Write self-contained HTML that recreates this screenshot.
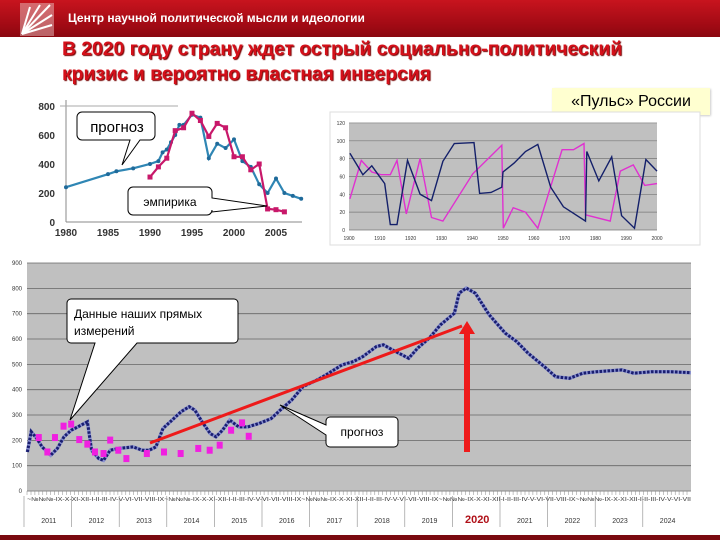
<!DOCTYPE html>
<html><head><meta charset="utf-8">
<style>
body{margin:0;width:720px;height:540px;overflow:hidden;background:#fff;font-family:"Liberation Sans",sans-serif;position:relative}
.abs{position:absolute}
#hdr{left:0;top:0;width:720px;height:37px;background:linear-gradient(#c8141e,#a00a14 70%,#8a0810)}
#title{left:62px;top:37px;color:#d4101a;font-weight:bold;font-size:19.5px;line-height:25px;text-shadow:1px 1px 1px #700;letter-spacing:-0.1px}
</style></head><body>
<div id="hdr" class="abs"></div>
<svg class="abs" style="left:20px;top:3px" width="34" height="33">
<rect x="0" y="0" width="34" height="33" fill="#e8c0c0" opacity="0.5"/>
<g stroke="#fff" stroke-width="2"><line x1="2" y1="31" x2="30" y2="2"/><line x1="2" y1="31" x2="20" y2="2"/><line x1="2" y1="31" x2="32" y2="12"/><line x1="2" y1="31" x2="10" y2="4"/><line x1="2" y1="31" x2="32" y2="22"/></g></svg>
<div class="abs" style="left:68px;top:11px;color:#fff;font-weight:bold;font-size:12px;letter-spacing:0px">Центр научной политической мысли и идеологии</div>
<div id="title" class="abs">В 2020 году страну ждет острый социально-политический<br>кризис и вероятно властная инверсия</div>
<div class="abs" style="left:552px;top:88px;width:158px;height:27px;background:#ffffd0;box-shadow:1px 1px 2px #ccc;font-size:16px;line-height:27px;text-align:center">«Пульс» России</div>
<svg class="abs" style="left:0;top:0" width="720" height="540" id="svg"></svg>
<script>
// ---- chart 1 data
const c1Years=[1980,1985,1986,1988,1990,1991,1991.5,1992,1992.5,1993,1993.5,1994,1995,1996,1997,1998,1999,2000,2001,2002,2003,2004,2005,2006,2007,2008];
const c1Forecast=[240,330,350,370,400,420,480,500,550,600,670,670,740,720,440,540,510,570,420,380,260,200,300,200,180,160];
const c1EmpYears=[1990,1991,1992,1993,1994,1995,1996,1997,1998,1999,2000,2001,2002,2003,2004,2005,2006];
const c1Empirical=[310,380,440,630,650,750,700,590,680,650,450,450,360,400,90,85,70];
const c1YTicks=[0,200,400,600,800];
const c1XTicks=[1980,1985,1990,1995,2000,2005];
// ---- chart 2 data
const c2NavyYears=[1900.3,1904.5,1907.4,1911.6,1913.4,1915.6,1919.0,1923.1,1926.8,1930.5,1934.2,1940.6,1942.4,1946.1,1949.6,1950.0,1953.6,1957.3,1961.3,1965.5,1969.6,1976.8,1977.2,1981.1,1985.3,1988.5,1992.7,1996.4,2000];
const c2Navy=[86,62,72,52,6,6,78,40,33,77,97,98,41,42,48,65,75,88,96,48,26,10,88,55,82,16,2,79,66];
const c2PinkYears=[1900.3,1904.0,1907.4,1910.4,1913.4,1915.6,1918.6,1923.1,1926.8,1930.5,1940.2,1949.6,1950.1,1953.3,1957.3,1961.3,1969.2,1972.9,1976.3,1976.8,1984.8,1988.1,1992.3,1996.0,2000];
const c2Pink=[35,78,65,62,62,78,18,80,14,10,63,95,2,25,20,2,90,90,97,17,10,66,73,50,52];
const c2YTicks=[0,20,40,60,80,100,120];
const c2XTicks=[1900,1910,1920,1930,1940,1950,1960,1970,1980,1990,2000];
// ---- chart 3 data
const c3Years=[2011.05,2011.13,2011.25,2011.36,2011.54,2011.68,2011.82,2011.97,2012.11,2012.31,2012.40,2012.55,2012.65,2012.79,2012.98,2013.27,2013.46,2013.61,2013.75,2013.90,2014.09,2014.28,2014.45,2014.57,2014.72,2014.89,2015.01,2015.15,2015.30,2015.49,2015.68,2015.92,2016.17,2016.36,2016.60,2016.84,2017.13,2017.32,2017.66,2017.90,2018.10,2018.38,2018.53,2018.72,2019.06,2019.25,2019.49,2019.73,2020.02,2020.12,2020.27,2020.46,2020.75,2021.09,2021.33,2021.57,2021.91,2022.15,2022.44,2022.72,2023.01,2023.54,2023.79,2024.17,2024.56,2024.99];
const c3Forecast=[154,234,207,174,141,168,214,240,253,273,161,128,121,161,168,174,161,161,174,247,280,313,333,319,273,227,214,240,280,253,253,267,286,319,359,412,438,458,498,511,531,570,577,557,524,564,603,656,702,781,801,781,696,623,590,544,491,451,445,465,471,478,465,471,471,467];
const c3MeasYears=[2011.29,2011.47,2011.63,2011.81,2011.97,2012.14,2012.31,2012.47,2012.65,2012.79,2012.96,2013.13,2013.56,2013.92,2014.27,2014.64,2014.88,2015.09,2015.33,2015.56,2015.70];
const c3Measured=[211,154,211,256,264,203,185,154,148,201,161,128,148,154,148,168,161,181,240,269,216];
const c3YTicks=[0,100,200,300,400,500,600,700,800,900];
const c3YLabels=["0","100","200","300","400","500","600","700","800","900"];
const c3XYears=[2011,2012,2013,2014,2015,2016,2017,2018,2019,2020,2021,2022,2023,2024];

const svg=document.getElementById('svg');const NS='http://www.w3.org/2000/svg';
function mk(t,a,txt){const e=document.createElementNS(NS,t);for(const k in a)e.setAttribute(k,a[k]);if(txt!==undefined)e.textContent=txt;svg.appendChild(e);return e;}
function pts(xs,ys,fx,fy){return xs.map((v,i)=>fx(v).toFixed(1)+','+fy(ys[i]).toFixed(1)).join(' ');}

// chart 1
const x1=y=>66+(y-1980)*8.4, y1=v=>222-v*0.145;
let e;
e=mk('line',{x1:66,y1:100,x2:66,y2:222,stroke:'#888'});
e=mk('line',{x1:66,y1:222,x2:302,y2:222,stroke:'#888'});
mk('line',{x1:60,y1:y1(800),x2:178,y2:y1(800),stroke:'#aaa'});
c1YTicks.forEach(v=>{e=mk('text',{x:55,y:y1(v)+4,'font-size':10,'text-anchor':'end','font-weight':'bold',fill:'#333'},v);});
c1XTicks.forEach(v=>{e=mk('text',{x:x1(v),y:236,'font-size':10,'text-anchor':'middle','font-weight':'bold',fill:'#333'},v);});
e=mk('polyline',{points:pts(c1Years,c1Forecast,x1,y1),fill:'none',stroke:'#2f86b4','stroke-width':2.2});
c1Years.forEach((v,i)=>{e=mk('circle',{cx:x1(v),cy:y1(c1Forecast[i]),r:2,fill:'#1f6a9a'});});
e=mk('polyline',{points:pts(c1EmpYears,c1Empirical,x1,y1),fill:'none',stroke:'#c8186a','stroke-width':2.2});
c1EmpYears.forEach((v,i)=>{e=mk('rect',{x:x1(v)-2.5,y:y1(c1Empirical[i])-2.5,width:5,height:5,fill:'#c8186a'});});
e=mk('path',{d:'M82,112 h68 a5,5 0 0 1 5,5 v18 a5,5 0 0 1 -5,5 h-10 L122,165 L130,140 h-48 a5,5 0 0 1 -5,-5 v-18 a5,5 0 0 1 5,-5z',fill:'#fff',stroke:'#000'});
mk('text',{x:117,y:132,'font-size':15,'text-anchor':'middle'},'прогноз');
e=mk('path',{d:'M133,187 h74 a5,5 0 0 1 5,5 v6 L267,206 L212,212 v-2 a5,5 0 0 1 -5,5 h-74 a5,5 0 0 1 -5,-5 v-18 a5,5 0 0 1 5,-5z',fill:'#fff',stroke:'#000'});
mk('text',{x:170,y:206,'font-size':12,'text-anchor':'middle'},'эмпирика');

// chart 2
e=mk('rect',{x:330,y:112,width:370,height:133,fill:'#fff',stroke:'#ddd'});
const x2=y=>349+(y-1900)*3.08, y2=v=>230-v*0.892;
e=mk('rect',{x:349,y:y2(120),width:308,height:y2(0)-y2(120),fill:'#c0c0c0'});
c2YTicks.forEach(v=>{mk('line',{x1:349,y1:y2(v),x2:657,y2:y2(v),stroke:'#777','stroke-width':0.7});e=mk('text',{x:345,y:y2(v)+2,'font-size':5,'text-anchor':'end',fill:'#333'},v);});
c2XTicks.forEach(v=>{e=mk('text',{x:x2(v),y:240,'font-size':5,'text-anchor':'middle',fill:'#333'},v);});
e=mk('polyline',{points:pts(c2PinkYears,c2Pink,x2,y2),fill:'none',stroke:'#e030d0','stroke-width':1.4});
e=mk('polyline',{points:pts(c2NavyYears,c2Navy,x2,y2),fill:'none',stroke:'#14206a','stroke-width':1.4});

// chart 3
const x3=y=>25+(y-2011)*47.6, y3=v=>491-v*0.2533;
e=mk('rect',{x:27,y:y3(900),width:664,height:y3(0)-y3(900),fill:'#c0c0c0'});
c3YTicks.forEach((v,i)=>{if(v>0)mk('line',{x1:27,y1:y3(v),x2:691,y2:y3(v),stroke:'#666','stroke-width':0.8});e=mk('text',{x:22,y:y3(v)+2,'font-size':6,'text-anchor':'end',fill:'#333'},c3YLabels[i]);});
mk('line',{x1:27,y1:491,x2:691,y2:491,stroke:'#888'});
let s='';for(let t=0;t<168;t++)s+='M'+(27+t*664/168).toFixed(1)+',491v4';mk('path',{d:s,stroke:'#888','stroke-width':0.5});
e=mk('text',{x:27,y:501,'font-size':5.5,fill:'#333',textLength:664,lengthAdjust:'spacingAndGlyphs'},'~\u2116\u2116\u2116-IX-X-XI-XII-I-II-III-IV-V-VI-VII-VIII-IX~\u2116\u2116\u2116-IX-X-XI-XII-I-II-III-IV-V-VI-VII-VIII-IX~\u2116\u2116\u2116-IX-X-XI-XII-I-II-III-IV-V-VI-VII-VIII-IX~\u2116\u2116\u2116-IX-X-XI-XII-I-II-III-IV-V-VI-VII-VIII-IX~\u2116\u2116\u2116-IX-X-XI-XII-I-II-III-IV-V-VI-VII');

c3XYears.forEach(v=>{mk('line',{x1:x3(v)-1,y1:496,x2:x3(v)-1,y2:527,stroke:'#888','stroke-width':0.6});
 if(v===2020){e=mk('text',{x:x3(v+0.5),y:523,'font-size':11,'font-weight':'bold','text-anchor':'middle',fill:'#b01018'},v);}
 else{e=mk('text',{x:x3(v+0.5),y:523,'font-size':7,'text-anchor':'middle',fill:'#333'},v);}
 });
e=mk('polyline',{points:pts(c3Years,c3Forecast,x3,y3),fill:'none',stroke:'#8890d0','stroke-width':3.5});
e=mk('polyline',{points:pts(c3Years,c3Forecast,x3,y3),fill:'none',stroke:'#1a1e70','stroke-width':3,'stroke-dasharray':'2.5 1.5'});
c3MeasYears.forEach((v,i)=>{e=mk('rect',{x:x3(v)-3,y:y3(c3Measured[i])-3.5,width:6,height:7,fill:'#f020e0'});});
e=mk('line',{x1:150,y1:443,x2:462,y2:326,stroke:'#ee1a1a','stroke-width':3});
e=mk('path',{d:'M464,452 V334 h-5 L467,321 L475,334 h-5 V452z',fill:'#ee1a1a'});
e=mk('path',{d:'M71,299 h163 a4,4 0 0 1 4,4 v36 a4,4 0 0 1 -4,4 h-97 L70,420 L95,343 h-24 a4,4 0 0 1 -4,-4 v-36 a4,4 0 0 1 4,-4z',fill:'#fff',stroke:'#000'});
mk('text',{x:74,y:318,'font-size':12},'Данные  наших прямых');
mk('text',{x:74,y:335,'font-size':12},'измерений');
e=mk('path',{d:'M330,417 h64 a4,4 0 0 1 4,4 v22 a4,4 0 0 1 -4,4 h-64 a4,4 0 0 1 -4,-4 v-8 L280,405 L326,425 v-4 a4,4 0 0 1 4,-4z',fill:'#fff',stroke:'#000'});
mk('text',{x:362,y:436,'font-size':12,'text-anchor':'middle'},'прогноз');
e=mk('rect',{x:0,y:535,width:720,height:5,fill:'#7a0a10'});
</script>
</body></html>
